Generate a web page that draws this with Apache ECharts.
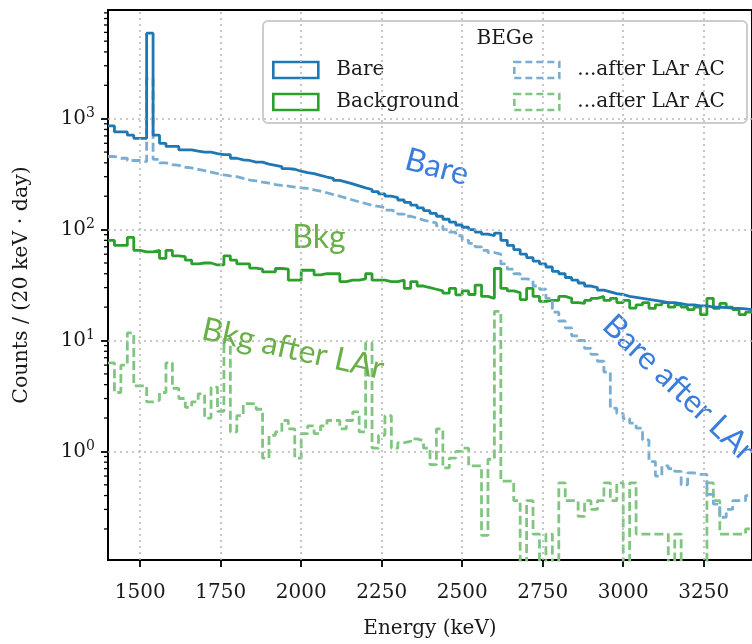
<!DOCTYPE html>
<html>
<head>
<meta charset="utf-8">
<script src="https://cdn.jsdelivr.net/npm/echarts@6/dist/echarts.min.js"></script>
<style>html,body{margin:0;padding:0;background:#fff}#c{width:752px;height:644px}</style>
</head>
<body>
<div id="c"></div>
<script>
// Bin left edges (keV), 20 keV bins
const binStart = 1400, binWidth = 20;
// Counts / (20 keV day)
const bare = [860,760,760,710,665,665,5900,710,600,562,
  562,523,523,510,499,499,485,474,474,440,
  426,420,406,406,390,380,370,354,350,336,
  326,320,308,298,290,278,268,258,248,238,
  230,220,210,200,194,185,176,166,157,148,
  140,132,124,117,110,105,100,95,91,88,
  93,80,72,66,60,56,52,49,46,42,
  40,37,35,33,31,30,28.5,27.5,26.5,26,
  25,24.5,24,23.5,23,22.5,22,22,21.5,21,
  21,20.5,20.5,20,20,19.8,19.6,19.5,19.3,19];
const bareLAr = [456,440,440,420,420,410,2300,430,400,385,
  380,365,360,350,340,330,320,312,305,300,
  290,280,275,268,262,255,250,247,242,238,
  235,228,222,215,207,200,192,185,178,172,
  166,162,158,150,144,138,132,127,122,118,
  115,108,100,95,88,80,75,70,65,62,
  60,49,44,40,36,35,31,29,24,18,
  15,13,11,10,8.5,7.5,6.5,5.2,2.45,2.2,
  1.98,1.8,1.62,1.27,0.81,0.6,0.74,0.7,0.66,0.5,
  0.64,0.62,0.62,0.41,0.335,0.255,0.3,0.36,0.36,0.4];
const bkg = [80,72,72,85,65,63,63,65,55,65,
  58,57,53,49,50,50,48,48,58,53,
  49,49,45,44,41.5,41.5,44.6,44,35,35,
  43,43,39,40,40,40,34,35,35,36,
  40,35,35,34,34,35,29.5,34,31,30,
  29,28,26.7,29.5,25.8,28,26,31.6,25,24,
  44.6,29.5,28,27,23.4,29.5,25,22.5,23,23,
  25,24,22,21.6,23,24,25,23,24,22,
  23,19.6,21,22,19.5,21,22,20,21,20,
  19,20,17.1,24,19.5,21.6,20,19,17.1,18];
const bkgLAr = [6.3,3.4,6.0,11.7,3.9,3.9,2.8,2.9,3.4,6.3,
  3.7,3.0,2.5,2.8,3.3,2.0,3.8,2.3,10.2,1.5,
  2.1,2.7,2.7,2.4,0.87,1.4,1.5,1.9,1.6,0.87,
  1.45,1.7,1.45,1.7,1.9,1.9,1.6,1.9,2.27,1.5,
  9.5,1.07,1.4,2.1,1.07,1.2,1.23,1.3,1.25,1.07,
  0.76,1.6,0.71,0.87,1.0,1.07,0.74,0.74,0.175,0.85,
  18.3,0.54,0.54,0.36,0,0.36,0.18,0,0.18,0,
  0.52,0.36,0.36,0.26,0.36,0.3,0.36,0.52,0.36,0.52,
  0,0.52,0.18,0.18,0.18,0.18,0.18,0,0.18,0,
  0,0,0,0.52,0.36,0.18,0.18,0.18,0.18,0.2];
const xTicks = [1500,1750,2000,2250,2500,2750,3000,3250];
const yTicks = [1,10,100,1000];
const yMinorTicks = [0.2,0.3,0.4,0.5,0.6,0.7,0.8,0.9,2,3,4,5,6,7,8,9,20,30,40,50,60,70,80,90,200,300,400,500,600,700,800,900,2000,3000,4000,5000,6000,7000,8000,9000];
const legendTitle = 'BEGe';
const names = ['Bare', 'Background', '...after LAr AC', '...after LAr AC '];

const C_BARE = '#1f77b4', C_BARE_L = '#79add2', C_BKG = '#2ca02c', C_BKG_L = '#80c680';
const C_TXT_B = '#3b7ddd', C_TXT_G = '#6aaf48';
const LW = 2.8;

function stepData(vals){
  const d = vals.map((v,i)=>[binStart + i*binWidth, v > 0 ? v : 1e-4]);
  const last = vals[vals.length-1];
  d.push([binStart + vals.length*binWidth, last > 0 ? last : 1e-4]);
  return d;
}
const serif = 'DejaVu Serif';
function legendItem(name, color, dashed){
  return {name, icon:'rect', itemStyle:{color:'rgba(0,0,0,0)', borderColor:color, borderWidth:2.6, borderType: dashed ? [7,4] : 'solid'}};
}
const legendCommon = {
  orient:'vertical', top:60, padding:0, itemWidth:45, itemHeight:16, itemGap:12,
  selectedMode:false, z:5,
  formatter: n => '{t|' + n.trim() + '}',
  textStyle:{rich:{t:{fontFamily:serif, fontSize:20, color:'#1a1a1a', padding:[0,0,0,13], lineHeight:20}}}
};
const chart = echarts.init(document.getElementById('c'), null, {renderer:'canvas'});
const option = {
  animation:false,
  backgroundColor:'#fff',
  grid:{left:108, top:10, bottom:77, right:-7, show:true, borderColor:'#000', borderWidth:2, backgroundColor:'rgba(0,0,0,0)'},
  xAxis:{type:'value', min:1400, max:3400,
    name:'Energy (keV)', nameLocation:'middle', nameGap:59,
    nameTextStyle:{fontFamily:serif, fontSize:20, color:'#1a1a1a'},
    axisLine:{show:true, lineStyle:{color:'#000', width:2}},
    axisTick:{show:true, length:7, customValues:xTicks, lineStyle:{color:'#000', width:1.8}},
    axisLabel:{customValues:xTicks, margin:23, fontFamily:serif, fontSize:20, color:'#1a1a1a', formatter: v => String(v)},
    splitLine:{show:false}},
  yAxis:{type:'log', logBase:10, min:0.105, max:9550,
    name:'Counts / (20 keV · day)', nameLocation:'middle', nameGap:76,
    nameTextStyle:{fontFamily:serif, fontSize:20.5, color:'#1a1a1a'},
    axisLine:{show:true, lineStyle:{color:'#000', width:2}},
    axisTick:{show:true, length:7, customValues:yTicks, lineStyle:{color:'#000', width:1.8}},
    axisLabel:{customValues:yTicks, margin:13,
      formatter: v => { const e = Math.round(Math.log10(v)); if (Math.abs(Math.log10(v) - e) > 1e-6) return ''; return '{b|10}{s|' + e + '}'; },
      rich:{b:{fontFamily:serif, fontSize:20, color:'#1a1a1a'}, s:{fontFamily:serif, fontSize:14, color:'#1a1a1a', verticalAlign:'top', padding:[0,0,10,0]}}},
    splitLine:{show:false}},
  legend:[
    Object.assign({left:272, data:[legendItem(names[0], C_BARE, false), legendItem(names[1], C_BKG, false)]}, legendCommon),
    Object.assign({left:513, data:[legendItem(names[2], C_BARE_L, true), legendItem(names[3], C_BKG_L, true)]}, legendCommon)
  ],
  graphic:[
    {type:'rect', z:3, shape:{x:263, y:21, width:484, height:102, r:5}, style:{fill:'rgba(255,255,255,0.82)', stroke:'#cccccc', lineWidth:2}},
    {type:'text', z:5, x:505, y:39, style:{text:legendTitle, fontFamily:serif, fontSize:20, fill:'#1a1a1a', align:'center', verticalAlign:'middle'}},
    {type:'text', z:4, x:437, y:167, rotation:-0.26, style:{text:'Bare', fontFamily:'Lato', fontSize:32, fill:C_TXT_B, align:'center', verticalAlign:'middle'}},
    {type:'text', z:4, x:319, y:238, rotation:0, style:{text:'Bkg', fontFamily:'Lato', fontSize:32, fill:C_TXT_G, align:'center', verticalAlign:'middle'}},
    {type:'text', z:4, x:293, y:349, rotation:-0.22, style:{text:'Bkg after LAr', fontFamily:'Lato', fontSize:32, fill:C_TXT_G, align:'center', verticalAlign:'middle'}},
    {type:'text', z:4, x:679, y:388, rotation:-0.76, style:{text:'Bare after LAr', fontFamily:'Lato', fontSize:32, fill:C_TXT_B, align:'center', verticalAlign:'middle'}}
  ],
  series:[
    {type:'line', name:'grid', z:1, silent:true, data:[], markLine:{silent:true, symbol:'none', label:{show:false},
      lineStyle:{color:'#b8b8b8', type:[2,4], width:1.6},
      data: xTicks.map(v=>({xAxis:v})).concat(yTicks.map(v=>({yAxis:v})))}},
    {type:'custom', name:'minor', silent:true, clip:false, z:3, data: yMinorTicks.map(v=>[1400, v]),
      renderItem:(params, api)=>{ const p = api.coord([1400, api.value(1)]); return {type:'line', shape:{x1:p[0]-4, y1:p[1], x2:p[0], y2:p[1]}, style:{stroke:'#000', lineWidth:1.3}}; }},
    {type:'line', name:names[1], step:'end', symbol:'none', z:2, data:stepData(bkg), lineStyle:{color:C_BKG, width:LW}, itemStyle:{color:C_BKG}},
    {type:'line', name:names[3], step:'end', symbol:'none', z:2, data:stepData(bkgLAr), lineStyle:{color:C_BKG_L, width:LW, type:[9,4]}, itemStyle:{color:C_BKG_L}},
    {type:'line', name:names[2], step:'end', symbol:'none', z:2, data:stepData(bareLAr), lineStyle:{color:C_BARE_L, width:LW, type:[9,4]}, itemStyle:{color:C_BARE_L}},
    {type:'line', name:names[0], step:'end', symbol:'none', z:2, data:stepData(bare), lineStyle:{color:C_BARE, width:LW}, itemStyle:{color:C_BARE}}
  ]
};
chart.setOption(option);
</script>
</body>
</html>
